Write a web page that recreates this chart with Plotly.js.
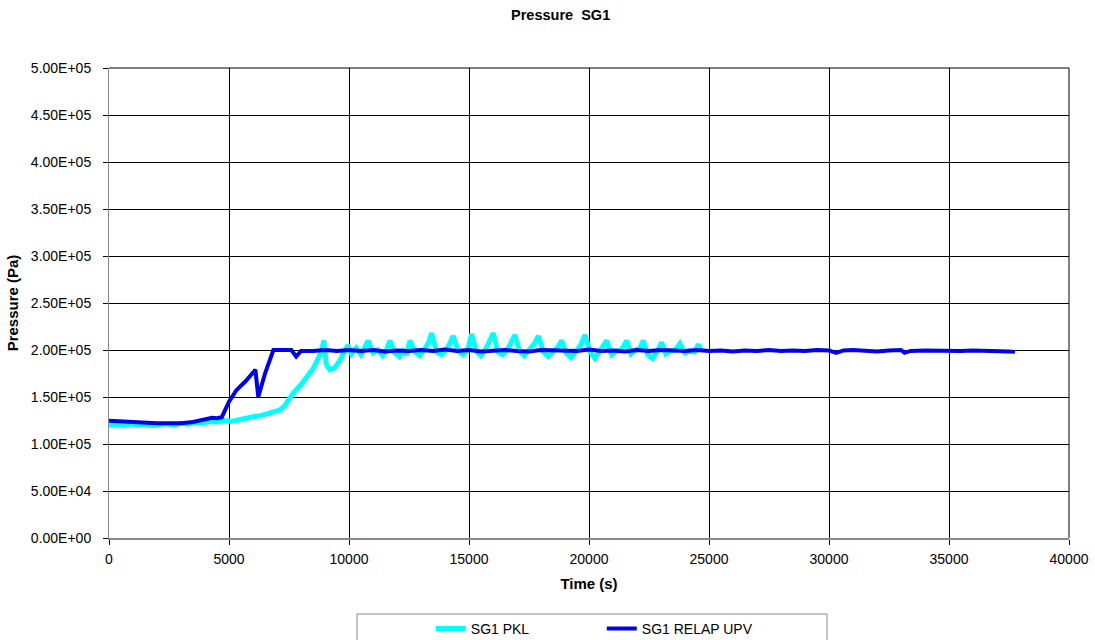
<!DOCTYPE html>
<html><head><meta charset="utf-8">
<script src="https://cdn.plot.ly/plotly-3.0.1.min.js"></script>
<style>html,body{margin:0;padding:0;background:#fff}#c{width:1095px;height:640px}</style>
</head><body><div id="c"></div>
<script>
const pklTime = [0,300,600,900,1200,1500,1800,2100,2400,2700,3000,3300,3600,3900,4200,4500,4800,5100,5400,5700,6000,6300,6600,6900,7100,7300,7500,7700,8000,8300,8500,8700,8850,8950,9050,9200,9400,9600,9800,9950,10100,10300,10500,10650,10800,11000,11200,11400,11550,11708,11900,12100,12250,12400,12542,12750,12950,13150,13300,13444,13650,13850,14050,14200,14347,14550,14750,14950,15111,15300,15500,15700,15850,16014,16200,16400,16600,16750,16917,17100,17300,17500,17700,17889,18100,18300,18500,18700,18861,19050,19250,19450,19650,19833,20050,20250,20450,20600,20736,20950,21150,21350,21569,21750,21950,22100,22264,22450,22650,22850,23028,23200,23400,23600,23792,24000,24200,24400,24556,24700];
const pklPressure = [120000,121000,119500,121500,120000,121000,119500,120500,121500,120000,122000,121000,123000,122000,124000,123500,125000,124000,126000,127000,129000,130000,132000,134000,136000,140000,148000,155000,163000,172000,180000,190000,198000,210000,185000,179000,181000,188000,197000,205000,196000,202000,195000,203000,210000,197000,200000,194000,199000,210000,197000,193000,199000,195000,210000,198000,194000,201000,207000,218000,198000,195000,200000,207000,215000,199000,195000,200000,217000,199000,194000,201000,208000,218000,198000,195000,200000,207000,216000,199000,194000,200000,206000,215000,198000,193000,199000,203000,210000,197000,192000,199000,205000,216000,198000,191000,198000,203000,210000,195000,199000,200000,210000,196000,200000,201000,210000,195000,191000,199000,208000,196000,199000,200000,207000,197000,199000,198000,206000,199000];
const upvTime = [0,500,1000,1500,2000,2500,3000,3500,4000,4300,4500,4700,5000,5300,5700,6100,6220,6500,6850,7300,7600,7800,8000,8500,9000,9500,10000,10500,11000,11500,12000,12500,13000,13500,14000,14500,15000,15500,16000,16500,17000,17500,18000,18500,19000,19500,20000,20500,21000,21500,22000,22500,23000,23500,24000,24500,25000,25500,26000,26500,27000,27500,28000,28500,29000,29500,30000,30300,30600,31000,31500,32000,32500,33000,33150,33400,34000,34500,35000,35500,36000,36500,37000,37500,37750];
const upvPressure = [124800,124000,123000,122300,122000,122000,122000,123500,126000,128000,127500,128500,145000,157000,167000,179000,150000,175000,200000,200000,200000,193000,199000,199000,200000,199000,200000,199000,200000,198500,199500,199000,200000,199000,200500,199000,200000,198500,199500,200000,199000,198500,200000,199500,200000,199000,200500,199000,199500,198500,200000,199000,200000,199500,199000,200000,199000,199500,198500,199500,199000,200000,199000,199500,199000,200000,199500,197000,199500,200000,199000,198500,199500,200000,197000,199000,199500,199000,199500,199000,199500,199500,199000,198500,198000];
const yTickVals = [0,50000,100000,150000,200000,250000,300000,350000,400000,450000,500000];
const yTickText = ["0.00E+00","5.00E+04","1.00E+05","1.50E+05","2.00E+05","2.50E+05","3.00E+05","3.50E+05","4.00E+05","4.50E+05","5.00E+05"];
const xTickVals = [0,5000,10000,15000,20000,25000,30000,35000,40000];

const traces = [
  {x: pklTime, y: pklPressure, name: "SG1 PKL", mode: "lines", line: {color: "#00FFFF", width: 5}},
  {x: upvTime, y: upvPressure, name: "SG1 RELAP UPV", mode: "lines", line: {color: "#0000F0", width: 4}}
];
const layout = {
  width: 1095, height: 640,
  margin: {l: 109, r: 26, t: 68, b: 102, autoexpand: false},
  paper_bgcolor: "#fff", plot_bgcolor: "#fff",
  font: {family: "Liberation Sans, Arial, sans-serif", size: 14, color: "#000"},
  title: {text: "<b>Pressure  SG1</b>", x: 0.512, xanchor: "center", y: 0.985, yanchor: "top", font: {size: 14.5, color: "#000"}},
  xaxis: {range: [0, 40000], tickvals: xTickVals, ticktext: xTickVals.map(String), showgrid: true, gridcolor: "#000", gridwidth: 1,
    zeroline: false, showline: true, linecolor: "#888", linewidth: 2, ticks: "outside", ticklen: 5, tickcolor: "#000",
    tickfont: {size: 14}, ticklabelstandoff: 2,
    title: {text: "<b>Time (s)</b>", font: {size: 15}, standoff: 13}},
  yaxis: {range: [0, 500000], tickvals: yTickVals, ticktext: yTickText, showgrid: true, gridcolor: "#000", gridwidth: 1,
    zeroline: false, showline: true, linecolor: "#888", linewidth: 1, ticks: "outside", ticklen: 5, tickcolor: "#000",
    tickfont: {size: 14}, ticklabelstandoff: 9,
    title: {text: "<b>Pressure (Pa)</b>", font: {size: 15}, standoff: 8}},
  showlegend: true,
  legend: {orientation: "h", x: 0.3352, xanchor: "left", yref: "container", y: 0.0423, yanchor: "top", font: {size: 14},
    entrywidth: 126, bgcolor: "rgba(0,0,0,0)", borderwidth: 0},
  shapes: [
    {type: "rect", xref: "paper", yref: "paper", x0: (357-109)/960, x1: (827-109)/960, y0: (538-645)/470, y1: (538-614)/470,
      line: {color: "#888", width: 1}, fillcolor: "rgba(0,0,0,0)", layer: "below"},
    {type: "line", xref: "paper", yref: "paper", x0: 1, x1: 1, y0: 0, y1: 1, line: {color: "#000", width: 1}},
    {type: "line", xref: "paper", yref: "paper", x0: 0, x1: 1, y0: 1, y1: 1, line: {color: "#000", width: 1}}
  ]
};
Plotly.newPlot("c", traces, layout, {displayModeBar: false, staticPlot: true});
</script></body></html>
